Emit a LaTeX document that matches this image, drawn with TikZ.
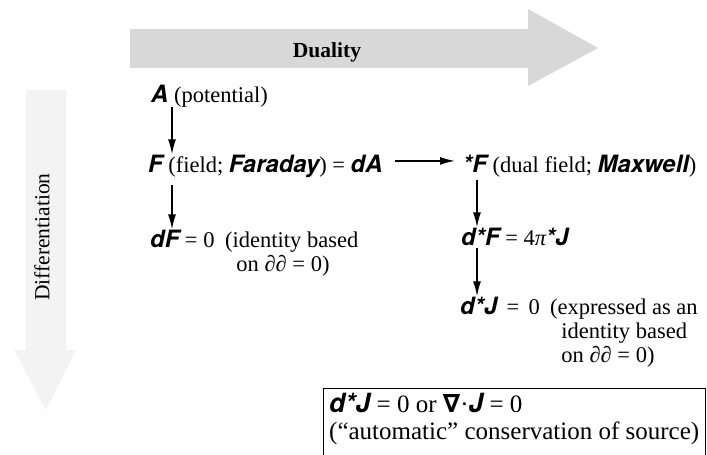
\documentclass[tikz,border=0pt]{standalone}
\usepackage{fontspec}
\setmainfont{Liberation Serif}
\newfontfamily\hvfont{TeX Gyre Heros}[Scale=1.06]
\newfontfamily\symfont{DejaVu Sans}
\usepackage{xcolor}
\usetikzlibrary{arrows.meta,calc}
\definecolor{stipple}{HTML}{D8D8D8}
\definecolor{faint}{HTML}{F3F3F3}
\newcommand{\bv}[1]{{\hvfont\bfseries\itshape #1}}

\begin{document}
\begin{tikzpicture}[x=1pt,y=-1pt,
   every node/.style={font=\fontsize{22.5}{24}\selectfont},
   txt/.style={anchor=base west,inner sep=0pt,align=left},
   dn/.style={-{Latex[length=15pt,width=8pt]},line width=1.6pt}]
\useasboundingbox (0,0) rectangle (707,455);
\fill[stipple] (130,29) -- (528,29) -- (528,9) -- (598,48) -- (528,86) -- (528,68) -- (130,68) -- cycle;
\fill[faint] (26,90) -- (66,90) -- (66,350) -- (76,350) -- (46,410) -- (14,350) -- (26,350) -- cycle;
\node[anchor=base,inner sep=0pt,font=\fontsize{21.5}{24}\selectfont\bfseries] (dual-lab) at (327,57) {Duality};
\node[rotate=90,inner sep=0pt,font=\fontsize{21.5}{24}\selectfont] (diff-lab) at (42,237) {Differentiation};
\coordinate (colL) at (172,0);
\coordinate (colR) at (477,0);
\coordinate (bxr) at (705,0);
\node[txt] (pot) at (151,102) {\bv{A} (potential)};
\node[txt] (field) at (148,172) {\bv{F} (field; \bv{Faraday}) = \bv{dA}};
\node[txt] (dual) at (463,172) {\bv{*F} (dual field; \bv{Maxwell})};
\node[txt] (bianchi) at (150,247) {\bv{dF} = 0};
\node[txt] (bnote) at (225,271) {(identity based\\\hspace{0.5em}on {\itshape ∂∂} = 0)};
\node[txt] (source) at (461,245) {\bv{d*F} = 4{\itshape π}\bv{*J}};
\node[txt] (cons) at (460,314) {\bv{d*J}\, =\, 0};
\node[txt] (cnote) at (550,362) {(expressed as an\\\hspace{0.5em}identity based\\\hspace{0.5em}on {\itshape ∂∂} = 0)};
\node[txt,anchor=north west,inner xsep=6pt,inner ysep=5pt,font=\fontsize{25}{27}\selectfont] (cs) at (323,388)
   {\bv{d*J} = 0 or {\symfont\bfseries ∇}·\bv{J} = 0\\(``automatic'' conservation of source)};
\draw[line width=1pt] (cs.south west) ++(0,30) |- (cs.north -| bxr) -- ++(0,90);
\draw[dn] (pot.south -| colL) -- (field.north -| colL);
\draw[dn,shorten <=8pt] (field.south -| colL) -- (bianchi.north -| colL);
\draw[dn,shorten <=3pt] (dual.south -| colR) -- (source.north -| colR);
\draw[dn,shorten <=3pt] (source.south -| colR) -- (cons.north -| colR);
\draw[dn,shorten <=12pt,shorten >=8pt] (field.east) ++(0,-5) coordinate (h1) (h1) -- (h1 -| dual.west);
\end{tikzpicture}
\end{document}
